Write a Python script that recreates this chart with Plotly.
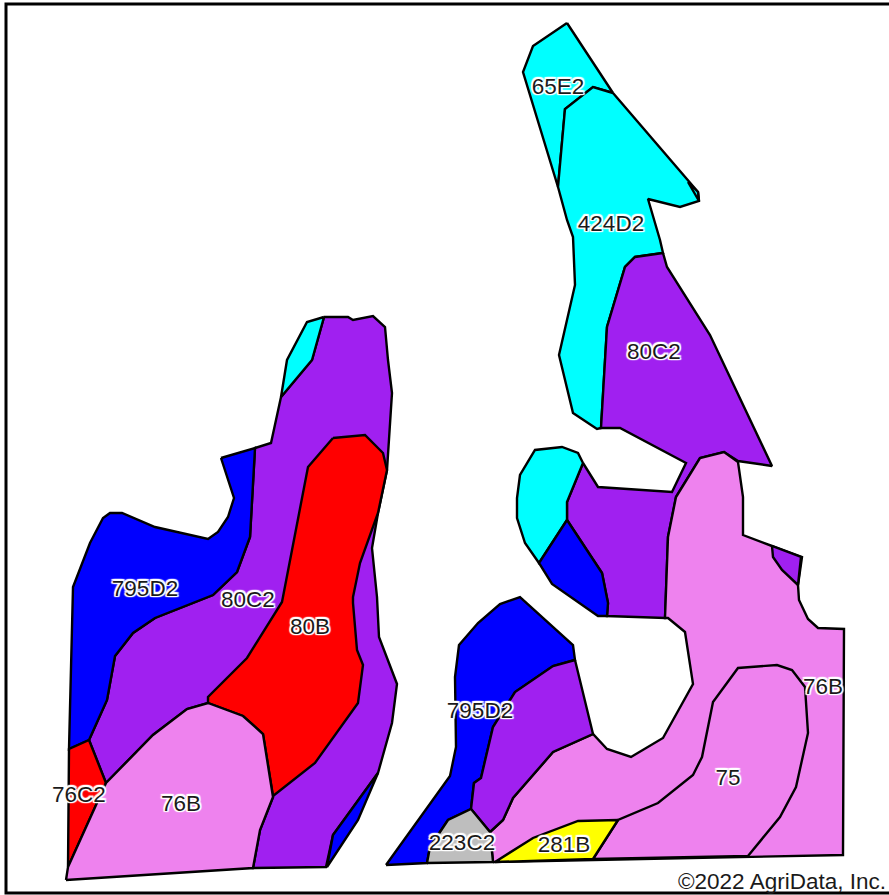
import plotly.graph_objects as go

# Map units (soil polygons) in map coordinates, drawn back to front
purple_left_x = [324,348,353,373,385,388,392,388,387,378,372,377,379,397,392,378,333,326,253,260,273,263,243,208,187,153,106,89,107,115,133,155,213,237,250,255,271,281,312]
purple_left_y = [317,317,320,316,327,360,393,453,470,513,548,597,637,684,723,773,835,867,868,830,797,734,716,703,709,735,783,740,700,656,633,618,595,572,537,448,443,397,360]
cyan_left_x = [324,307,287,281,312]
cyan_left_y = [317,322,360,397,360]
blue_left_x = [221,255,250,237,213,155,133,115,107,89,69,73,90,103,110,122,155,208,218,228,234]
blue_left_y = [458,448,537,572,595,618,633,656,700,740,749,587,543,518,513,513,527,539,532,517,498]
red_80b_x = [333,365,383,387,378,360,353,353,357,363,358,315,273,263,243,208,208,247,282,308]
red_80b_y = [438,435,453,470,513,563,597,603,650,665,703,763,796,734,716,703,697,658,602,467]
red_76c2_x = [89,106,68,69]
red_76c2_y = [740,783,867,749]
violet_left_x = [66,253,260,273,263,243,208,187,153,106,68]
violet_left_y = [880,868,830,797,734,716,703,709,735,783,867]
blue_sliver_x = [378,358,327,333]
blue_sliver_y = [773,820,867,835]

cyan_65e2_x = [567,533,523,558,565,593,613]
cyan_65e2_y = [23,46,72,187,109,87,93]
cyan_424d2_x = [613,698,699,680,648,660,663,635,625,607,601,597,573,559,575,573,567,558,565,593]
cyan_424d2_y = [93,192,201,207,199,240,253,257,267,327,428,429,413,355,285,237,220,187,109,87]
cyan_tip_x = [688,698,699]
cyan_tip_y = [182,192,201]
purple_mid_x = [663,667,710,772,738,724,700,676,668,665,607,608,602,567,567,583,598,672,686,620,601,607,625,635]
purple_mid_y = [253,267,335,466,461,452,458,497,537,618,616,603,573,520,502,463,487,492,463,428,428,327,267,257]
cyan_mid_x = [583,578,562,535,520,517,517,525,539,567,567]
cyan_mid_y = [463,453,447,450,475,498,518,543,563,520,502]
blue_mid_x = [567,602,608,607,598,552,539]
blue_mid_y = [520,573,603,616,616,584,563]
violet_76b_x = [493,843,844,818,808,799,798,802,772,743,743,738,724,700,676,668,665,668,685,693,663,631,607,595,593,553,513,503,490]
violet_76b_y = [862,855,629,628,619,600,585,557,546,535,497,462,452,458,497,537,618,618,632,684,738,757,749,737,734,752,798,820,832]
purple_small_x = [772,801,798,782,773]
purple_small_y = [546,557,585,570,557]
violet_75_x = [748,780,796,808,805,792,777,738,713,702,693,658,618,593]
violet_75_y = [856,817,787,733,687,670,665,668,702,757,775,803,820,859]
blue_low_x = [386,427,430,448,471,474,481,493,515,553,575,573,520,500,478,459,455,456,450]
blue_low_y = [865,863,847,820,809,783,778,727,692,666,660,645,597,604,623,645,677,747,776]
purple_low_x = [575,593,553,513,503,490,471,474,481,493,515,553]
purple_low_y = [660,734,752,798,820,832,809,783,778,727,692,666]
gray_x = [427,430,448,471,490,493]
gray_y = [863,847,820,809,832,862]
yellow_x = [495,533,578,618,593]
yellow_y = [862,838,821,820,859]

units = [
    (purple_left_x, purple_left_y, "#A020F0"),
    (cyan_left_x, cyan_left_y, "#00FFFF"),
    (blue_left_x, blue_left_y, "#0000FF"),
    (red_80b_x, red_80b_y, "#FF0000"),
    (red_76c2_x, red_76c2_y, "#FF0000"),
    (violet_left_x, violet_left_y, "#EE82EE"),
    (blue_sliver_x, blue_sliver_y, "#0000FF"),
    (cyan_65e2_x, cyan_65e2_y, "#00FFFF"),
    (cyan_424d2_x, cyan_424d2_y, "#00FFFF"),
    (cyan_tip_x, cyan_tip_y, "#00FFFF"),
    (purple_mid_x, purple_mid_y, "#A020F0"),
    (cyan_mid_x, cyan_mid_y, "#00FFFF"),
    (blue_mid_x, blue_mid_y, "#0000FF"),
    (violet_76b_x, violet_76b_y, "#EE82EE"),
    (purple_small_x, purple_small_y, "#A020F0"),
    (violet_75_x, violet_75_y, "#EE82EE"),
    (blue_low_x, blue_low_y, "#0000FF"),
    (purple_low_x, purple_low_y, "#A020F0"),
    (gray_x, gray_y, "#BEBEBE"),
    (yellow_x, yellow_y, "#FFFF00"),
]

label_text = ["65E2","424D2","80C2","795D2","80C2","80B","795D2","76B","76C2","76B","75","223C2","281B"]
label_x = [558,611,654,145,248,310,480,823,79,181,728,462,564]
label_y = [88,225,353,590,601,628,712,688,796,805,779,844,846]

fig = go.Figure()
for xs, ys, colour in units:
    fig.add_trace(go.Scatter(
        x=list(xs) + [xs[0]], y=list(ys) + [ys[0]], mode="lines", fill="toself", fillcolor=colour,
        line=dict(color="black", width=2.4), hoverinfo="skip", showlegend=False,
    ))
halo = ",".join(f"{a}px {b}px 1px #fff" for a in (-1.5, 0, 1.5) for b in (-1.5, 0, 1.5))
fig.add_trace(go.Scatter(
    x=label_x, y=label_y, text=label_text, mode="text", textposition="middle center",
    textfont=dict(family="Liberation Sans", size=22.5, color="#1a1a1a", shadow=halo),
    hoverinfo="skip", showlegend=False,
))
fig.add_annotation(
    x=888, y=891, xref="x", yref="y", xanchor="right", yanchor="bottom", yshift=-5,
    text="©2022 AgriData, Inc.", showarrow=False,
    font=dict(family="Liberation Sans", size=22.5, color="#1a1a1a"),
)
fig.add_shape(type="rect", x0=6, y0=4, x1=900, y1=893, xref="x", yref="y",
              line=dict(color="black", width=3), fillcolor="rgba(0,0,0,0)")
fig.update_xaxes(range=[0, 889], visible=False, fixedrange=True)
fig.update_yaxes(range=[895, 0], visible=False, fixedrange=True)
fig.update_layout(
    width=889, height=895, margin=dict(l=0, r=0, t=0, b=0),
    paper_bgcolor="white", plot_bgcolor="white", showlegend=False,
)
fig.write_html(
    "out.html", config={"displayModeBar": False},
    post_script="document.body.style.margin='0';document.body.style.overflow='hidden';",
)
